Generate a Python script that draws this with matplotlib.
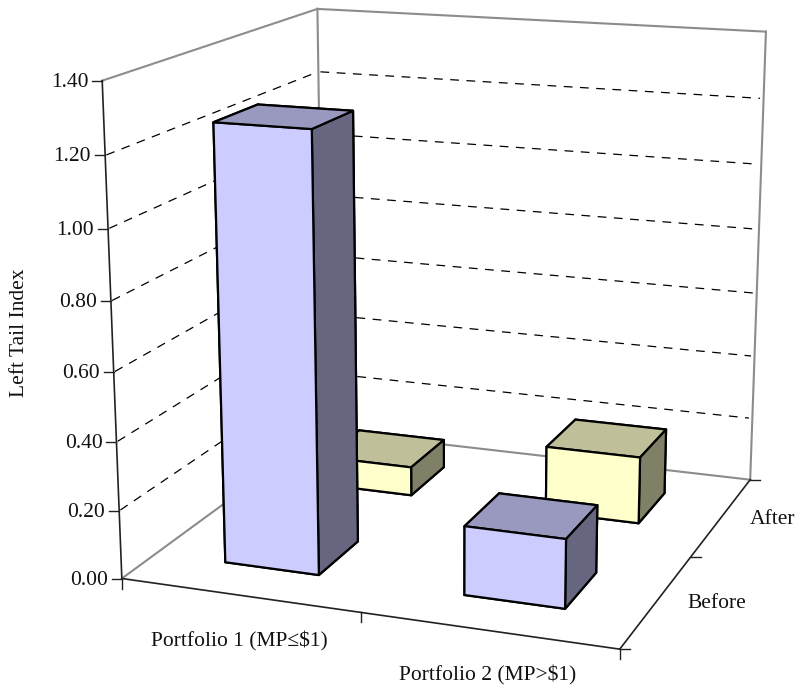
import numpy as np
import matplotlib
matplotlib.use('Agg')
import matplotlib.pyplot as plt

W, H = 803, 688

# chart values
portfolios = ['Portfolio 1 (MP≤$1)', 'Portfolio 2 (MP>$1)']
periods = ['Before', 'After']
before_vals = [1.265, 0.20]
after_vals = [0.09, 0.205]
z_ticks = [0.0, 0.2, 0.4, 0.6, 0.8, 1.0, 1.2, 1.4]

BAR_W = 0.40
BEFORE_FACE = '#CCCCFF'
BEFORE_TOP = '#9999BF'
BEFORE_SIDE = '#666680'
AFTER_FACE = '#FFFFCC'
AFTER_TOP = '#BFBF99'
AFTER_SIDE = '#808066'

# camera: box points (x, y, z) and where they land on the canvas, in pixels
box_pts = [(0, 0, 0), (2, 0, 0), (2, 2, 0),
           (0, 0, 1.4), (0, 2, 1.4), (2, 2, 1.4),
           (0, 0, 0.6), (0, 2, 1.2), (2, 2, 1.2)]
pix_pts = [(122, 578.5), (620, 649), (750, 480),
           (102, 81), (318, 9), (766, 32),
           (113.5, 372), (318, 71.5), (763.5, 98)]


def fit_camera(box, pix):
    rows = []
    for (x, y, z), (u, v) in zip(box, pix):
        u, v = u / 1000, v / 1000
        rows.append([x, y, z, 1, 0, 0, 0, 0, -u*x, -u*y, -u*z, -u])
        rows.append([0, 0, 0, 0, x, y, z, 1, -v*x, -v*y, -v*z, -v])
    P = np.linalg.svd(np.array(rows))[2][-1].reshape(3, 4)
    P[:2] *= 1000
    return P / (P[2] @ [1, 1, 0.7, 1])


P = fit_camera(box_pts, pix_pts)


def project(x, y, z):
    u, v, w = P @ [x, y, z, 1]
    return u / w, v / w


fig = plt.figure(figsize=(W / 100, H / 100), dpi=100)
ax = fig.add_axes([0, 0, 1, 1], projection='3d', computed_zorder=False)
ax.apply_aspect = lambda position=None: None
ax.set_axis_off()
ax.patch.set_visible(False)


def camera_matrix():
    flip = np.array([[1, 0, 0], [0, -1, H], [0, 0, 1]], dtype=float)
    A = ax.transData.inverted().get_matrix() @ flip @ P
    # depth stays negative everywhere, otherwise lines get dropped
    depth = A[2] - np.array([0, 0, 0, 3.0])
    return np.array([A[0], A[1], depth, A[2]])


ax.get_proj = camera_matrix

# walls and floor outline
gray = '#8c8c8c'
for xs, ys, zs in [([0, 0], [0, 2], [1.4, 1.4]), ([0, 2], [2, 2], [1.4, 1.4]),
                   ([0, 0], [2, 2], [0, 1.4]), ([2, 2], [2, 2], [0, 1.4]),
                   ([0, 0], [0, 2], [0, 0]), ([0, 2], [2, 2], [0, 0])]:
    ax.plot(xs, ys, zs, color=gray, lw=1.5, zorder=1)

# dashed gridlines on both walls
for z in z_ticks[1:-1]:
    ax.plot([0, 0], [0.01, 1.97], [z, z], color='k', lw=0.9, dashes=(7, 6), zorder=2)
    ax.plot([0.01, 1.985], [2, 2], [z, z], color='k', lw=0.9, dashes=(7, 6), zorder=2)

# front axis lines
for xs, ys, zs in [([0, 0], [0, 0], [0, 1.4]), ([0, 2], [0, 0], [0, 0]), ([2, 2], [0, 2], [0, 0])]:
    ax.plot(xs, ys, zs, color='#222222', lw=1.2, zorder=3)


def draw_bar(ix, iy, val, face, roof, side, order):
    x0 = ix + 0.5 - BAR_W / 2
    y0 = iy + 0.5 - BAR_W / 2
    ax.bar3d(x0, y0, 0, BAR_W, BAR_W, val, color=[face, roof, face, face, side, side],
             shade=False, edgecolor='k', linewidth=1.6, zorder=order)


# back row first, front row over it
for i, v in enumerate(after_vals):
    draw_bar(i, 1, v, AFTER_FACE, AFTER_TOP, AFTER_SIDE, 4 + i)
for i, v in enumerate(before_vals):
    draw_bar(i, 0, v, BEFORE_FACE, BEFORE_TOP, BEFORE_SIDE, 7 - i)

# ticks and text sit on a flat layer in pixel units
top = fig.add_axes([0, 0, 1, 1])
top.set_xlim(0, W)
top.set_ylim(H, 0)
top.axis('off')
font = dict(family='Liberation Serif', fontsize=15.5, color='#111111')

for z in z_ticks:
    u, v = project(0, 0, z)
    top.plot([u - 10, u], [v, v], color='#222222', lw=1)
    top.text(u - 14, v + 1.5, f'{z:.2f}', ha='right', va='center', **font)
for ix in range(3):
    u, v = project(ix, 0, 0)
    top.plot([u, u], [v, v + 10], color='#222222', lw=1)
for iy in range(3):
    u, v = project(2, iy, 0)
    top.plot([u, u + 10], [v, v], color='#222222', lw=1)

top.text(239, 641, portfolios[0], ha='center', va='center', **font)
top.text(488, 675, portfolios[1], ha='center', va='center', **font)
top.text(687, 603, periods[0], ha='left', va='center', **font)
top.text(750, 519, periods[1], ha='left', va='center', **font)
top.text(20, 333, 'Left Tail Index', rotation=90, ha='center', va='center', **font)

fig.savefig('out.png', dpi=100)
